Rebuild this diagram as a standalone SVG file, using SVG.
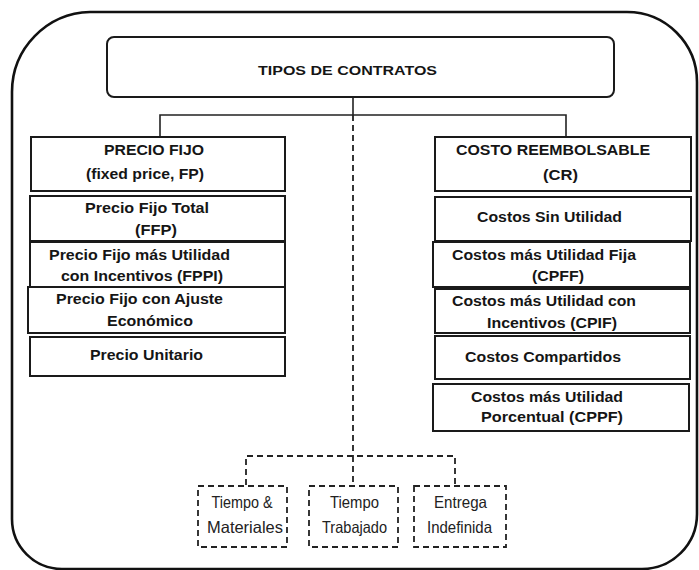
<svg xmlns="http://www.w3.org/2000/svg" width="699" height="570" viewBox="0 0 699 570">
  <defs>
    <style>
      .frame { fill: none; stroke: #111; stroke-width: 2.6; }
      .box { fill: #fff; stroke: #1a1a1a; stroke-width: 2; }
      .dbox { fill: #fff; stroke: #222; stroke-width: 1.8; stroke-dasharray: 6 4; }
      .link { fill: none; stroke: #222; stroke-width: 1.6; }
      .dlink { fill: none; stroke: #222; stroke-width: 1.8; stroke-dasharray: 6 4; }
      .b { font-family: "Liberation Sans", Arial, sans-serif; font-weight: bold; font-size: 14.5px; fill: #151515; text-anchor: middle; }
      .t { font-size: 13.5px; }
      .n { font-family: "Liberation Sans", Arial, sans-serif; font-size: 16.5px; fill: #222; text-anchor: middle; }
    </style>
  </defs>
  <rect width="699" height="570" fill="#fff"/>

  <!-- outer rounded frame -->
  <path class="frame" d="M 90 12 H 627 A 70 70 0 0 1 697 82 V 514 A 55 55 0 0 1 642 569 H 62 A 50 50 0 0 1 12 519 V 92 A 80 80 0 0 1 90 12 Z"/>

  <!-- connectors -->
  <g id="connectors">
    <path class="link" d="M 353 96 V 115 M 160 137 V 115 H 566 V 137"/>
    <path class="dlink" d="M 353 115 V 456"/>
    <path class="dlink" d="M 246 485 V 456 H 455 V 485 M 353 456 V 485"/>
  </g>

  <g id="root">
    <rect class="box" x="107" y="37" width="507" height="60" rx="7"/>
    <text class="b t" x="347.5" y="75" textLength="179" lengthAdjust="spacingAndGlyphs">TIPOS DE CONTRATOS</text>
  </g>

  <!-- fixed price column -->
  <g id="fp">
    <rect class="box" x="31" y="137" width="254" height="54"/>
    <text class="b" x="154" y="155" textLength="100" lengthAdjust="spacingAndGlyphs">PRECIO FIJO</text>
    <text class="b" x="145" y="179" textLength="118" lengthAdjust="spacingAndGlyphs">(fixed price, FP)</text>
  </g>
  <g id="ffp">
    <rect class="box" x="30" y="196" width="255" height="45"/>
    <text class="b" x="147" y="213" textLength="124" lengthAdjust="spacingAndGlyphs">Precio Fijo Total</text>
    <text class="b" x="156" y="235" textLength="42" lengthAdjust="spacingAndGlyphs">(FFP)</text>
  </g>
  <g id="fppi">
    <rect class="box" x="30" y="242" width="255" height="45"/>
    <text class="b" x="139.5" y="260" textLength="181" lengthAdjust="spacingAndGlyphs">Precio Fijo más Utilidad</text>
    <text class="b" x="142" y="281" textLength="162" lengthAdjust="spacingAndGlyphs">con Incentivos (FPPI)</text>
  </g>
  <g id="fpea">
    <rect class="box" x="28" y="287" width="257" height="46"/>
    <text class="b" x="139.5" y="304" textLength="167" lengthAdjust="spacingAndGlyphs">Precio Fijo con Ajuste</text>
    <text class="b" x="150" y="326" textLength="86" lengthAdjust="spacingAndGlyphs">Económico</text>
  </g>
  <g id="pu">
    <rect class="box" x="30" y="337" width="255" height="39"/>
    <text class="b" x="146.5" y="360" textLength="113" lengthAdjust="spacingAndGlyphs">Precio Unitario</text>
  </g>

  <!-- cost reimbursable column -->
  <g id="cr">
    <rect class="box" x="435" y="137" width="256" height="54"/>
    <text class="b" x="553" y="155" textLength="194" lengthAdjust="spacingAndGlyphs">COSTO REEMBOLSABLE</text>
    <text class="b" x="560.5" y="180" textLength="35" lengthAdjust="spacingAndGlyphs">(CR)</text>
  </g>
  <g id="csu">
    <rect class="box" x="435" y="197" width="256" height="44"/>
    <text class="b" x="549.5" y="222" textLength="145" lengthAdjust="spacingAndGlyphs">Costos Sin Utilidad</text>
  </g>
  <g id="cpff">
    <rect class="box" x="433" y="242" width="257" height="45"/>
    <text class="b" x="544" y="260" textLength="184" lengthAdjust="spacingAndGlyphs">Costos más Utilidad Fija</text>
    <text class="b" x="558" y="281" textLength="52" lengthAdjust="spacingAndGlyphs">(CPFF)</text>
  </g>
  <g id="cpif">
    <rect class="box" x="435" y="289" width="255" height="44"/>
    <text class="b" x="544" y="306" textLength="184" lengthAdjust="spacingAndGlyphs">Costos más Utilidad con</text>
    <text class="b" x="552" y="328" textLength="130" lengthAdjust="spacingAndGlyphs">Incentivos (CPIF)</text>
  </g>
  <g id="cc">
    <rect class="box" x="435" y="336" width="255" height="43"/>
    <text class="b" x="543" y="362" textLength="156" lengthAdjust="spacingAndGlyphs">Costos Compartidos</text>
  </g>
  <g id="cppf">
    <rect class="box" x="433" y="384" width="256" height="47"/>
    <text class="b" x="547" y="402" textLength="152" lengthAdjust="spacingAndGlyphs">Costos más Utilidad</text>
    <text class="b" x="552" y="422" textLength="142" lengthAdjust="spacingAndGlyphs">Porcentual (CPPF)</text>
  </g>

  <!-- other contract types -->
  <g id="tm">
    <rect class="dbox" x="198" y="486" width="89" height="61"/>
    <text class="n" x="242" y="508" textLength="61" lengthAdjust="spacingAndGlyphs">Tiempo &amp;</text>
    <text class="n" x="245" y="533" textLength="76" lengthAdjust="spacingAndGlyphs">Materiales</text>
  </g>
  <g id="tt">
    <rect class="dbox" x="309" y="486" width="89" height="61"/>
    <text class="n" x="354.5" y="508" textLength="49" lengthAdjust="spacingAndGlyphs">Tiempo</text>
    <text class="n" x="354.5" y="533" textLength="65" lengthAdjust="spacingAndGlyphs">Trabajado</text>
  </g>
  <g id="ei">
    <rect class="dbox" x="414" y="486" width="92" height="61"/>
    <text class="n" x="460.5" y="508" textLength="53" lengthAdjust="spacingAndGlyphs">Entrega</text>
    <text class="n" x="459.5" y="533" textLength="65" lengthAdjust="spacingAndGlyphs">Indefinida</text>
  </g>
</svg>
